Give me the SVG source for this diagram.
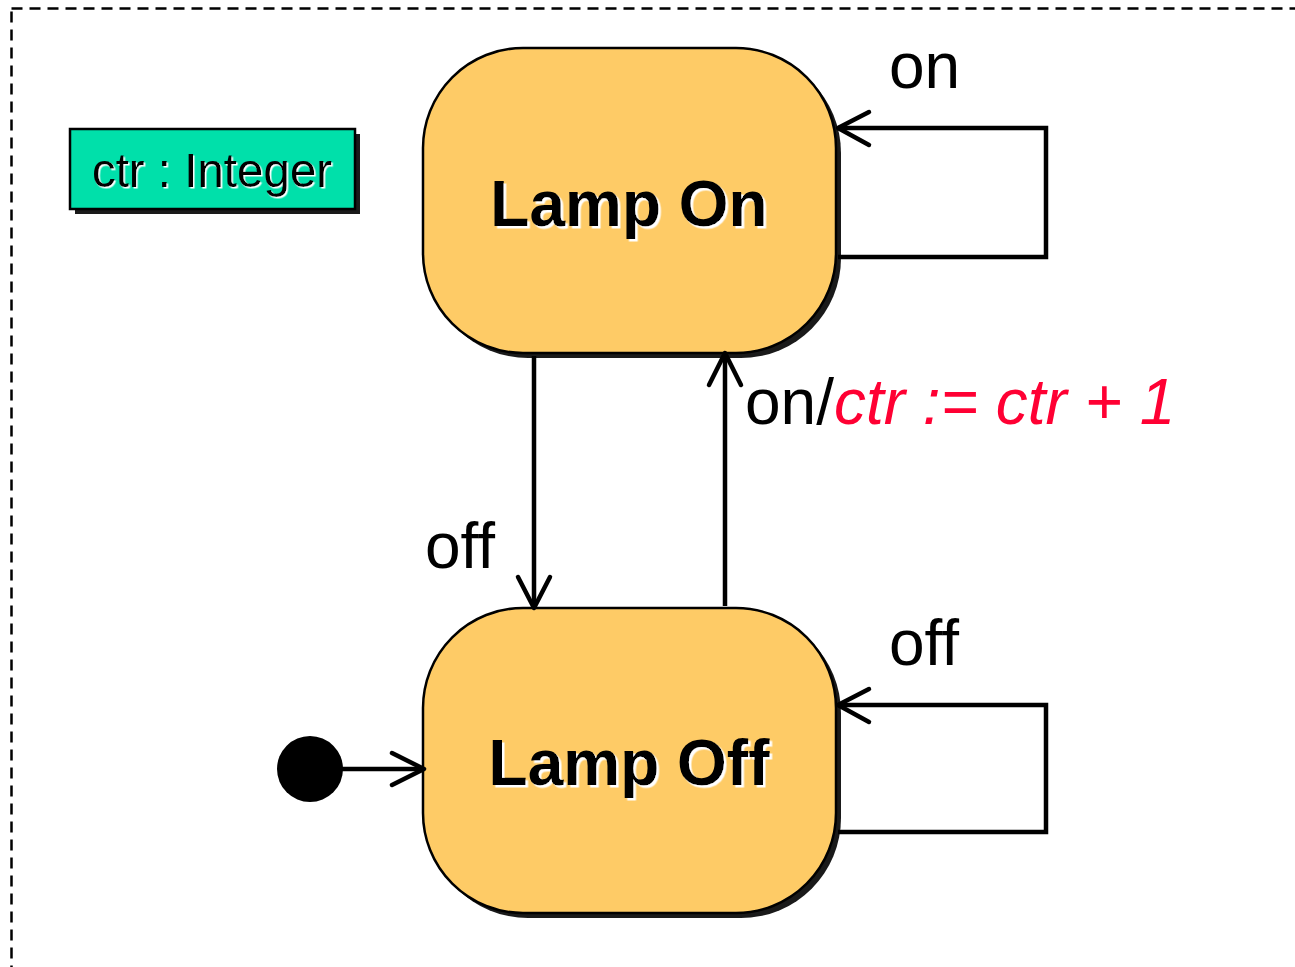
<svg xmlns="http://www.w3.org/2000/svg" width="1295" height="967" viewBox="0 0 1295 967">
<defs>
<filter id="ws" x="-5%" y="-5%" width="110%" height="120%">
<feDropShadow dx="2.5" dy="2.5" stdDeviation="0" flood-color="#fff" flood-opacity="1"/>
</filter>
<filter id="ws2" x="-5%" y="-5%" width="110%" height="120%">
<feDropShadow dx="1.5" dy="1.5" stdDeviation="0" flood-color="#fff" flood-opacity="1"/>
</filter>
</defs>
<style>
.frame{fill:none;stroke:#000;stroke-width:2.5;stroke-dasharray:11 7}
.state{fill:#FECB66;stroke:#000;stroke-width:2.5}
.shadow{fill:#1a1a1a}
.title{font-family:"Liberation Sans",Arial,sans-serif;font-weight:bold;font-size:64px;text-anchor:middle}
.lbl{font-family:"Liberation Sans",Arial,sans-serif;font-size:64px}
.conn{fill:none;stroke:#000;stroke-width:4.5;stroke-linejoin:miter}
.head{fill:none;stroke:#000;stroke-width:4.5;stroke-linecap:round;stroke-linejoin:round}
</style>
<rect width="1295" height="967" fill="#fff"/>
<rect class="frame" x="11.5" y="8.5" width="1320" height="1000"/>
<g id="attr">
<rect class="shadow" x="75" y="134" width="285" height="80"/>
<rect x="70" y="129" width="285" height="80" fill="#00E0AA" stroke="#000" stroke-width="2.5"/>
<text x="212" y="187" font-family="Liberation Sans,Arial,sans-serif" font-size="47.5" text-anchor="middle" filter="url(#ws2)">ctr : Integer</text>
</g>
<g id="lampOn">
<rect class="shadow" x="428" y="53" width="413" height="305" rx="100" ry="100"/>
<rect class="state" x="423" y="48" width="413" height="305" rx="100" ry="100"/>
<text class="title" x="629" y="226" filter="url(#ws)">Lamp On</text>
</g>
<g id="lampOff">
<rect class="shadow" x="428" y="613" width="413" height="305" rx="100" ry="100"/>
<rect class="state" x="423" y="608" width="413" height="305" rx="100" ry="100"/>
<text class="title" x="629" y="785" filter="url(#ws)">Lamp Off</text>
</g>
<g id="initial">
<circle cx="310" cy="769" r="33" fill="#000"/>
</g>
<g id="connectors">
<polyline class="conn" points="838,257 1046,257 1046,128 838,128"/>
<polyline class="head" points="869,112 838,128 869,145"/>
<polyline class="conn" points="838,832 1046,832 1046,705 838,705"/>
<polyline class="head" points="869,689 838,705 869,722"/>
<line class="conn" x1="534" y1="356" x2="534" y2="606"/>
<polyline class="head" points="518,577 534,608 550,577"/>
<line class="conn" x1="725" y1="606" x2="725" y2="356"/>
<polyline class="head" points="709,385 725,353 741,385"/>
<line class="conn" x1="340" y1="769" x2="423" y2="769"/>
<polyline class="head" points="392,753 424,769 392,785"/>
</g>
<g id="labels">
<text class="lbl" x="889" y="88">on</text>
<text class="lbl" x="889" y="665">off</text>
<text class="lbl" x="425" y="568">off</text>
<text class="lbl" x="745" y="424">on/<tspan fill="#FF0033" font-style="italic">ctr := ctr + 1</tspan></text>
</g>
</svg>
